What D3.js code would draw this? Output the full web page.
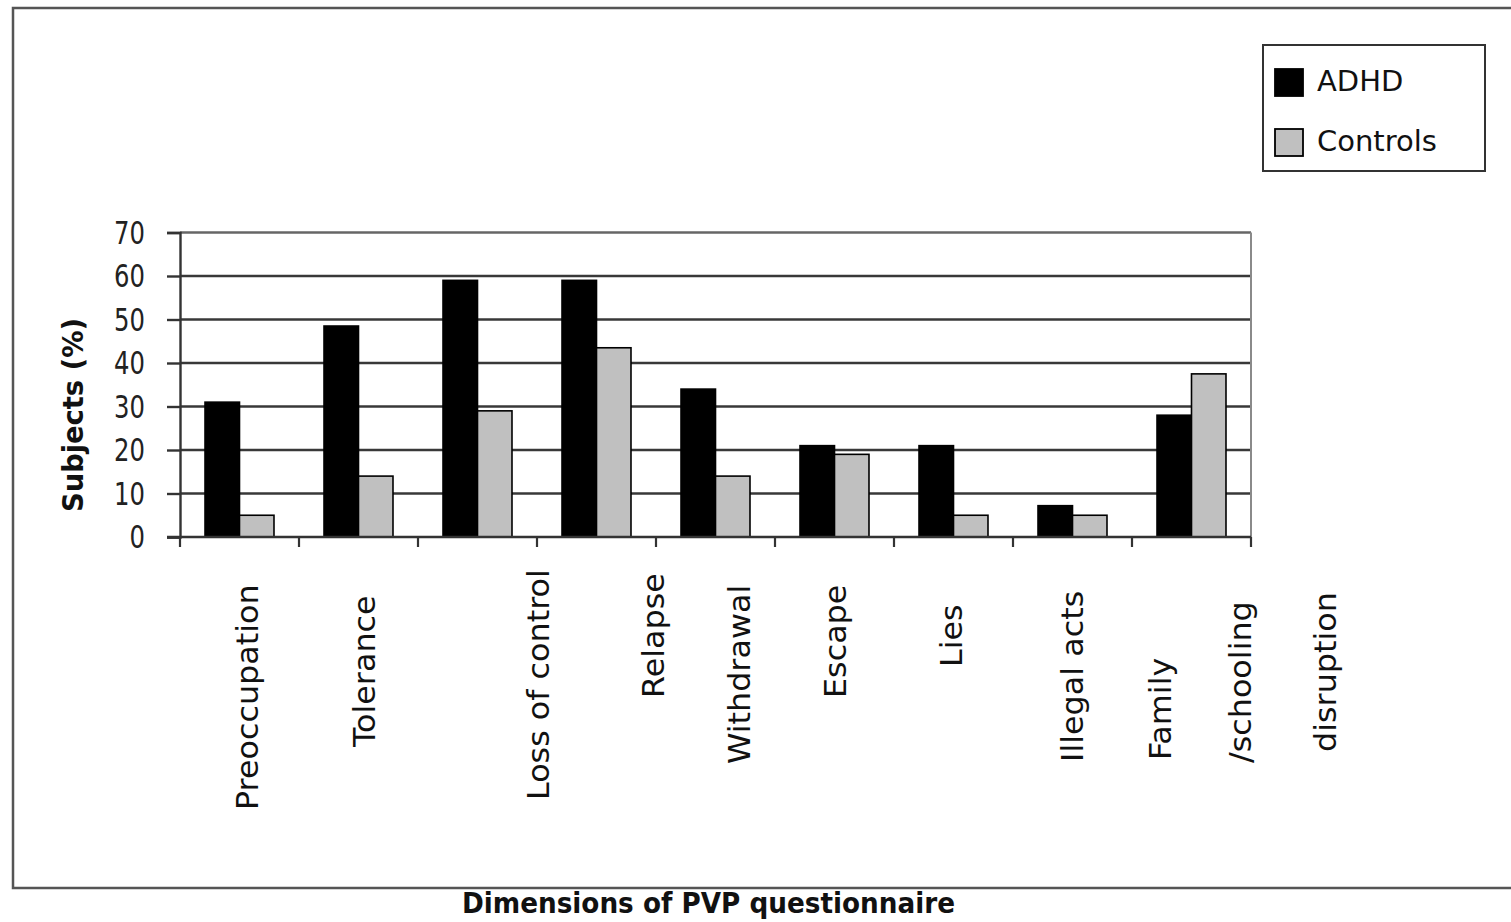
<!DOCTYPE html>
<html>
<head>
<meta charset="utf-8">
<script src="https://cdn.jsdelivr.net/npm/d3@7"></script>
<style>
  html, body { margin: 0; padding: 0; background: #fff; overflow: hidden; }
  svg { display: block; }
</style>
</head>
<body>
<svg id="chart" width="1511" height="922"></svg>
<script>
// ---- data ----
const categories = ["Preoccupation", "Tolerance", "Loss of control", "Relapse", "Withdrawal",
                    "Escape", "Lies", "Illegal acts", "Family /schooling disruption"];
const seriesNames = ["ADHD", "Controls"];
const adhdValues = [31, 48.5, 59, 59, 34, 21, 21, 7.2, 28];
const controlValues = [5, 14, 29, 43.5, 14, 19, 5, 5, 37.5];
const yTicks = [0, 10, 20, 30, 40, 50, 60, 70];
const yTitle = "Subjects (%)";
const xTitle = "Dimensions of PVP questionnaire";

// pieces of the category labels as they are wrapped under the axis
const labelPieces = [
  { cat: 0, text: "Preoccupation" },
  { cat: 1, text: "Tolerance" },
  { cat: 2, text: "Loss of control" },
  { cat: 3, text: "Relapse" },
  { cat: 4, text: "Withdrawal" },
  { cat: 5, text: "Escape" },
  { cat: 6, text: "Lies" },
  { cat: 7, text: "Illegal acts" },
  { cat: 8, text: "Family" },
  { cat: 8, text: "/schooling" },
  { cat: 8, text: "disruption" }
];
// placement of each label piece: shift from band centre, lower end of the rotated text
const labelPlacement = [
  { dx: 8, bottom: 810 }, { dx: 6, bottom: 747 }, { dx: 61, bottom: 800 },
  { dx: 57, bottom: 698 }, { dx: 24, bottom: 764 }, { dx: 1, bottom: 698 },
  { dx: -2, bottom: 667 }, { dx: 0, bottom: 762 }, { dx: -31, bottom: 760 },
  { dx: 49, bottom: 763 }, { dx: 134, bottom: 752 }
];

const fills = { ADHD: "#000000", Controls: "#c0c0c0" };

// ---- layout ----
const plot = { left: 180, right: 1251, top: 232.5, bottom: 537 };
const svg = d3.select("#chart");

const x0 = d3.scaleBand().domain(categories).range([plot.left, plot.right]).padding(0);
const x1 = d3.scaleBand().domain(seriesNames).range([0, x0.bandwidth()])
  .paddingInner(0).paddingOuter(0.725);
const y = d3.scaleLinear().domain([0, 70]).range([plot.bottom, plot.top]);

const rows = categories.map((c, i) => ({ cat: c, ADHD: adhdValues[i], Controls: controlValues[i] }));

// outer frame
svg.append("path")
  .attr("d", `M1530,8 H13 V888 H1530`)
  .attr("fill", "none").attr("stroke", "#555").attr("stroke-width", 2.5);

// horizontal grid lines
svg.append("g").selectAll("line").data(yTicks.filter(t => t > 0)).join("line")
  .attr("x1", plot.left).attr("x2", plot.right)
  .attr("y1", d => y(d)).attr("y2", d => y(d))
  .attr("stroke", d => d === 70 ? "#666" : "#383838")
  .attr("stroke-width", 2.5);

// right border of the plot area
svg.append("line")
  .attr("x1", plot.right).attr("x2", plot.right)
  .attr("y1", plot.top).attr("y2", plot.bottom)
  .attr("stroke", "#8a8a8a").attr("stroke-width", 2);

// bars
const groups = svg.append("g").selectAll("g").data(rows).join("g")
  .attr("transform", d => `translate(${x0(d.cat)},0)`);
groups.selectAll("rect").data(d => seriesNames.map(s => ({ s, v: d[s] }))).join("rect")
  .attr("x", d => x1(d.s))
  .attr("width", x1.bandwidth())
  .attr("y", d => y(d.v))
  .attr("height", d => y(0) - y(d.v))
  .attr("fill", d => fills[d.s])
  .attr("stroke", "#000").attr("stroke-width", 1.6);

// y axis
const yAxis = d3.axisLeft(y).tickValues(yTicks).tickSize(13).tickPadding(0).tickFormat(d3.format("d"));
const yg = svg.append("g").attr("transform", `translate(${plot.left},0)`).call(yAxis);
yg.select(".domain").attr("stroke", "#333").attr("stroke-width", 2.4);
yg.selectAll(".tick line").attr("stroke", "#333").attr("stroke-width", 2.4);
yg.selectAll(".tick text").remove();
yg.selectAll(".tick").append("text")
  .attr("transform", "translate(-35,0) scale(1,1.17)")
  .attr("text-anchor", "end")
  .attr("dominant-baseline", "central")
  .attr("fill", "#222")
  .style("font-family", "'DejaVu Sans Condensed', 'DejaVu Sans', sans-serif")
  .style("font-size", "27px")
  .text(d => d);

// x axis line with ticks at the category boundaries
svg.append("line")
  .attr("x1", plot.left - 13).attr("x2", plot.right)
  .attr("y1", y(0)).attr("y2", y(0))
  .attr("stroke", "#333").attr("stroke-width", 2.4);
const boundaries = categories.map(c => x0(c)).concat([x0(categories[categories.length - 1]) + x0.bandwidth()]);
svg.append("g").selectAll("line").data(boundaries).join("line")
  .attr("x1", d => d).attr("x2", d => d)
  .attr("y1", y(0)).attr("y2", y(0) + 10)
  .attr("stroke", "#333").attr("stroke-width", 2.2);

// category labels, rotated and slightly stretched along the text
svg.append("g").selectAll("text").data(labelPieces).join("text")
  .attr("transform", (d, i) => {
    const cx = x0(categories[d.cat]) + x0.bandwidth() / 2 + labelPlacement[i].dx;
    return `translate(${cx},${labelPlacement[i].bottom}) rotate(-90) scale(1.06,1)`;
  })
  .attr("text-anchor", "start")
  .attr("dominant-baseline", "central")
  .attr("fill", "#111")
  .style("font-family", "'DejaVu Sans', sans-serif")
  .style("font-size", "30px")
  .text(d => d.text);

// axis titles
svg.append("text")
  .attr("transform", "translate(73,415) rotate(-90)")
  .attr("text-anchor", "middle")
  .attr("dominant-baseline", "central")
  .attr("textLength", 194).attr("lengthAdjust", "spacingAndGlyphs")
  .style("font-family", "'DejaVu Sans Condensed', 'DejaVu Sans', sans-serif")
  .style("font-weight", "bold")
  .style("font-size", "29px")
  .attr("fill", "#111")
  .text(yTitle);

svg.append("text")
  .attr("x", 462).attr("y", 913)
  .attr("textLength", 493).attr("lengthAdjust", "spacingAndGlyphs")
  .style("font-family", "'DejaVu Sans Condensed', 'DejaVu Sans', sans-serif")
  .style("font-weight", "bold")
  .style("font-size", "29px")
  .attr("fill", "#111")
  .text(xTitle);

// legend
const legend = svg.append("g").attr("transform", "translate(1263,45)");
legend.append("rect")
  .attr("width", 222).attr("height", 126)
  .attr("fill", "#fff").attr("stroke", "#333").attr("stroke-width", 2);
const items = legend.selectAll("g.item").data(seriesNames).join("g")
  .attr("class", "item")
  .attr("transform", (d, i) => `translate(12,${24 + i * 60})`);
items.append("rect")
  .attr("width", 28).attr("height", 27)
  .attr("fill", d => fills[d]).attr("stroke", "#000").attr("stroke-width", 1.8);
items.append("text")
  .attr("x", 42).attr("y", 22)
  .style("font-family", "'DejaVu Sans', sans-serif")
  .style("font-size", "29px")
  .attr("fill", "#111")
  .text(d => d);
</script>
</body>
</html>
